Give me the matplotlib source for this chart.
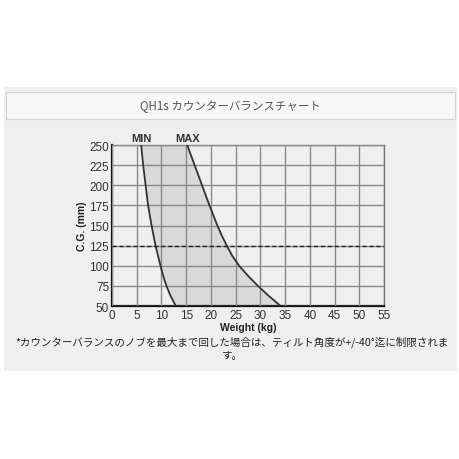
import matplotlib
matplotlib.use('Agg')
import matplotlib.pyplot as plt
from matplotlib.patches import Rectangle

# values (every 12.5 mm of C.G.)
cg_mm = [250, 237.5, 225, 212.5, 200, 187.5, 175, 162.5, 150,
         137.5, 125, 112.5, 100, 87.5, 75, 62.5, 50]
min_kg = [5.9, 6.1, 6.3, 6.55, 6.8, 7.05, 7.3, 7.65, 8.0,
          8.4, 8.8, 9.3, 9.8, 10.35, 11.0, 11.85, 12.9]
max_kg = [15.2, 15.95, 16.7, 17.45, 18.2, 18.95, 19.7, 20.5, 21.3,
          22.2, 23.2, 24.3, 25.7, 27.5, 29.5, 31.7, 34.1]
x_ticks = list(range(0, 60, 5))
y_ticks = list(range(50, 275, 25))
limit_cg = 125

title = "QH1s カウンターバランスチャート"
note_1 = "*カウンターバランスのノブを最大まで回した場合は、ティルト角度が+/-40°迄に制限されま"
note_2 = "す。"

plt.rcParams['font.family'] = ['Liberation Sans', 'Noto Sans CJK JP', 'DejaVu Sans']
jp = ['Noto Sans CJK JP', 'DejaVu Sans']

fig = plt.figure(figsize=(4.6, 4.6), dpi=100)
fig.patch.set_facecolor('white')

# panel and header bar (pixel coords -> figure fraction)
def box(x0, y0, x1, y1, **kw):
    fig.patches.append(Rectangle((x0 / 460, 1 - y1 / 460), (x1 - x0) / 460, (y1 - y0) / 460,
                                 transform=fig.transFigure, zorder=-5, **kw))

box(4, 88, 457, 372, facecolor='#efefef', edgecolor='none')
box(6, 93, 455, 120, facecolor='#f7f7f7', edgecolor='#d4d4d4', linewidth=0.8)
fig.text(230 / 460, 1 - 107 / 460, title, ha='center', va='center',
         fontsize=8.3, color='#555555', family=jp)

ax = fig.add_axes([112 / 460, 1 - 307 / 460, 272 / 460, 161 / 460])
ax.set_facecolor('#efefef')

ax.fill_betweenx(cg_mm, min_kg, max_kg, color='#d9d9d9', zorder=1)
ax.plot(min_kg, cg_mm, color='#333333', lw=1.3, zorder=4)
ax.plot(max_kg, cg_mm, color='#333333', lw=1.3, zorder=4)
ax.axhline(limit_cg, color='#222222', lw=1.0, ls=(0, (3, 2)), zorder=5)

ax.set_xlim(0, 55)
ax.set_ylim(50, 250)
ax.set_xticks(x_ticks)
ax.set_yticks(y_ticks)
ax.grid(True, color='#8a8a8a', lw=1.0, zorder=2)
ax.set_axisbelow(False)
for gl in ax.get_xgridlines() + ax.get_ygridlines():
    gl.set_zorder(2)

ax.tick_params(labelsize=8.5, colors='#333333', length=0, pad=2)
for s in ['top', 'right']:
    ax.spines[s].set_color('#777777')
    ax.spines[s].set_linewidth(1.0)
for s in ['left', 'bottom']:
    ax.spines[s].set_color('#111111')
    ax.spines[s].set_linewidth(1.6)

ax.set_xlabel('Weight (kg)', fontsize=7.5, fontweight='bold', color='#222222', labelpad=1)
ax.set_ylabel('C.G. (mm)', fontsize=7.5, fontweight='bold', color='#222222', labelpad=2)

ax.text(min_kg[0], 252, 'MIN', ha='center', va='bottom', fontsize=8, fontweight='bold', color='#333333')
ax.text(max_kg[0], 252, 'MAX', ha='center', va='bottom', fontsize=8, fontweight='bold', color='#333333')

fig.text(232 / 460, 1 - 342 / 460, note_1, ha='center', va='center', fontsize=7.6,
         color='#222222', family=jp)
fig.text(232 / 460, 1 - 356 / 460, note_2, ha='center', va='center', fontsize=7.6,
         color='#222222', family=jp)

fig.savefig('out.png', dpi=100, facecolor='white')
